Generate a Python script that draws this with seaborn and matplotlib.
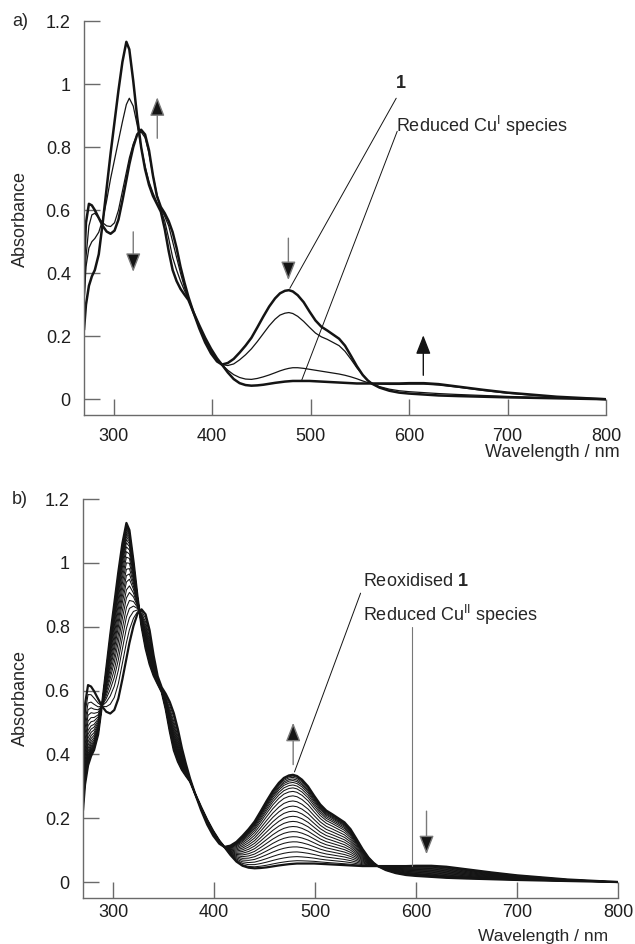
import numpy as np
import pandas as pd
import matplotlib
matplotlib.use("Agg")
import matplotlib.pyplot as plt
import seaborn as sns

# ---------------- data ----------------
wavelength = [270, 272, 275, 278, 281, 285, 289, 293, 297, 301,
              305, 309, 313, 316, 320, 324, 328, 332, 336, 340,
              344, 348, 352, 356, 360, 364, 368, 372, 376, 381,
              387, 393, 399, 405, 410, 416, 422, 428, 434, 440,
              446, 452, 458, 464, 469, 474, 478, 482, 487, 493,
              499, 505, 511, 517, 523, 529, 535, 541, 547, 553,
              558, 562, 570, 580, 590, 600, 615, 630, 650, 675,
              700, 750, 800]

compound1 = [0.42, 0.56, 0.62, 0.615, 0.60, 0.575, 0.55, 0.532, 0.525, 0.535,
             0.57, 0.63, 0.695, 0.745, 0.80, 0.84, 0.855, 0.84, 0.79, 0.71,
             0.645, 0.61, 0.59, 0.565, 0.53, 0.48, 0.42, 0.37, 0.325, 0.277,
             0.225, 0.18, 0.145, 0.12, 0.11, 0.115, 0.128, 0.148, 0.17, 0.195,
             0.228, 0.262, 0.294, 0.32, 0.336, 0.344, 0.346, 0.342, 0.33, 0.308,
             0.278, 0.25, 0.23, 0.218, 0.205, 0.192, 0.17, 0.138, 0.105, 0.077,
             0.06, 0.05, 0.037, 0.027, 0.021, 0.018, 0.015, 0.012, 0.01, 0.008,
             0.006, 0.003, 0.0]

intermediate_hi = [0.30, 0.45, 0.55, 0.585, 0.59, 0.575, 0.56, 0.55, 0.548, 0.56,
                   0.60, 0.66, 0.72, 0.765, 0.81, 0.84, 0.848, 0.83, 0.78, 0.71,
                   0.65, 0.605, 0.58, 0.55, 0.50, 0.45, 0.40, 0.355, 0.318, 0.277,
                   0.228, 0.185, 0.15, 0.123, 0.11, 0.107, 0.112, 0.125, 0.141, 0.16,
                   0.183, 0.208, 0.233, 0.254, 0.267, 0.273, 0.275, 0.272, 0.263, 0.247,
                   0.228, 0.21, 0.198, 0.19, 0.18, 0.17, 0.152, 0.127, 0.10, 0.077,
                   0.06, 0.05, 0.04, 0.032, 0.027, 0.024, 0.021, 0.018, 0.015, 0.012,
                   0.009, 0.004, 0.0]

intermediate_lo = [0.30, 0.42, 0.48, 0.50, 0.51, 0.53, 0.57, 0.63, 0.70, 0.76,
                   0.82, 0.88, 0.935, 0.955, 0.93, 0.87, 0.80, 0.74, 0.69, 0.655,
                   0.625, 0.60, 0.565, 0.51, 0.45, 0.41, 0.375, 0.345, 0.318, 0.277,
                   0.232, 0.19, 0.155, 0.127, 0.11, 0.092, 0.078, 0.069, 0.064, 0.063,
                   0.066, 0.071, 0.077, 0.084, 0.09, 0.095, 0.098, 0.10, 0.10, 0.098,
                   0.095, 0.092, 0.089, 0.086, 0.083, 0.08, 0.076, 0.071, 0.065, 0.058,
                   0.053, 0.05, 0.048, 0.047, 0.047, 0.048, 0.048, 0.045, 0.038, 0.028,
                   0.019, 0.007, 0.0]

reduced_cu = [0.22, 0.30, 0.36, 0.39, 0.41, 0.46, 0.56, 0.67, 0.78, 0.88,
              0.98, 1.07, 1.134, 1.11, 1.01, 0.895, 0.80, 0.73, 0.68, 0.645,
              0.62, 0.595, 0.54, 0.47, 0.41, 0.375, 0.35, 0.332, 0.315, 0.277,
              0.235, 0.195, 0.16, 0.13, 0.11, 0.085, 0.064, 0.051, 0.045, 0.043,
              0.044, 0.046, 0.049, 0.052, 0.054, 0.056, 0.057, 0.058, 0.058, 0.058,
              0.058, 0.057, 0.056, 0.055, 0.054, 0.053, 0.052, 0.051, 0.05, 0.05,
              0.05, 0.05, 0.05, 0.05, 0.05, 0.051, 0.051, 0.048, 0.04, 0.03,
              0.021, 0.008, 0.0]

# panel b: absorbance of each re-oxidation trace read at 313 nm and 478 nm
trace_a313 = [1.125, 1.12, 1.115, 1.11, 1.104, 1.097, 1.09, 1.082, 1.073, 1.063,
              1.05, 1.035, 1.018, 1.0, 0.98, 0.96, 0.94, 0.915, 0.89, 0.86,
              0.83, 0.795, 0.75, 0.70]
trace_a478 = [0.057, 0.066, 0.079, 0.094, 0.11, 0.126, 0.142, 0.158, 0.174, 0.19,
              0.206, 0.222, 0.238, 0.254, 0.27, 0.284, 0.295, 0.304, 0.312, 0.318,
              0.323, 0.328, 0.332, 0.336]
isosbestic_nm = 410

x_ticks = [300, 400, 500, 600, 700, 800]
y_ticks = [0, 0.2, 0.4, 0.6, 0.8, 1.0, 1.2]
y_ticklabels = ["0", "0.2", "0.4", "0.6", "0.8", "1", "1.2"]

# ---------------- style ----------------
sns.set_style("ticks")
plt.rcParams["font.family"] = ["Liberation Sans", "DejaVu Sans"]
plt.rcParams["mathtext.fontset"] = "custom"
plt.rcParams["mathtext.rm"] = "Liberation Sans"
plt.rcParams["mathtext.it"] = "Liberation Sans:italic"
plt.rcParams["mathtext.bf"] = "Liberation Sans:bold"

FS = 13
SPINE = "#6a6a6a"
INK = "#141414"

fig = plt.figure(figsize=(6.35, 9.44), dpi=100)
W, H = 635, 944
axA = fig.add_axes([84 / W, 1 - 415 / H, 522 / W, 394 / H])
axB = fig.add_axes([83 / W, 1 - 898 / H, 535 / W, 399 / H])

wl = np.array(wavelength)


def style_axis(ax, xpad):
    ax.set_xlim(270, 800)
    ax.set_ylim(-0.05, 1.2)
    ax.set_xticks(x_ticks)
    ax.set_xticklabels([str(t) for t in x_ticks])
    ax.set_yticks(y_ticks)
    ax.set_yticklabels(y_ticklabels)
    for s in ["top", "right"]:
        ax.spines[s].set_visible(False)
    for s in ["left", "bottom"]:
        ax.spines[s].set_color(SPINE)
        ax.spines[s].set_linewidth(1.0)
    ax.tick_params(axis="both", direction="in", length=11.5, width=1.0,
                   color=SPINE, labelsize=FS, labelcolor="#1e1e1e")
    ax.tick_params(axis="y", pad=9.5)
    ax.tick_params(axis="x", pad=xpad)
    ax.set_xlabel("")
    ax.set_ylabel("")
    ax.set_facecolor("white")


def arrow(ax, tail, tip, shaft="#7a7a7a"):
    ax.annotate("", xy=tip, xytext=tail,
                arrowprops=dict(arrowstyle="-|>,head_length=1.15,head_width=0.45",
                                mutation_scale=10, lw=1.0, edgecolor=shaft,
                                facecolor=INK, shrinkA=0, shrinkB=0))


# ---------------- panel a ----------------
curves_a = pd.DataFrame({"wl": wl, "c1": compound1, "ihi": intermediate_hi,
                         "ilo": intermediate_lo, "red": reduced_cu})
for col, lw in [("ilo", 0.9), ("ihi", 0.9), ("red", 1.8), ("c1", 1.8)]:
    sns.lineplot(data=curves_a, x="wl", y=col, ax=axA, color=INK, lw=lw,
                 sort=False, estimator=None)
style_axis(axA, 9.5)

axA.text(592, 1.003, "1", fontsize=FS, fontweight="bold", ha="center", va="center")
axA.plot([587, 479], [0.955, 0.352], color=INK, lw=0.7)
axA.text(587, 0.867, r"Reduced Cu$^{\mathrm{I}}$ species", fontsize=FS,
         ha="left", va="center")
axA.plot([588, 491], [0.85, 0.06], color=INK, lw=0.7)

arrow(axA, (344.4, 0.828), (344.4, 0.958))
arrow(axA, (320, 0.531), (320, 0.404))
arrow(axA, (477.5, 0.511), (477.5, 0.378))
arrow(axA, (614.5, 0.076), (614.5, 0.203), shaft=INK)

# ---------------- panel b ----------------
red = np.array(reduced_cu)
ox = np.array(compound1)
red313 = red[wavelength.index(313)]
ox313 = ox[wavelength.index(313)]
red478 = red[wavelength.index(478)]
ox478 = ox[wavelength.index(478)]

rows = []
for i, (a313, a478) in enumerate(zip(trace_a313, trace_a478)):
    f_uv = (red313 - a313) / (red313 - ox313)
    f_vis = (a478 - red478) / (ox478 - red478)
    f = np.where(wl <= isosbestic_nm, f_uv, f_vis)
    spec = red + f * (ox - red)
    for w, a in zip(wl, spec):
        rows.append({"trace": i, "wl": w, "A": a})
traces = pd.DataFrame(rows)
n = len(trace_a313)
for i in range(n):
    lw = 1.6 if i in (0, n - 1) else 0.75
    sns.lineplot(data=traces[traces.trace == i], x="wl", y="A", ax=axB,
                 color=INK, lw=lw, sort=False, estimator=None)
style_axis(axB, 4.0)

axB.text(547, 0.94, r"Reoxidised $\mathbf{1}$", fontsize=FS, ha="left", va="center")
axB.plot([545, 479.5], [0.905, 0.345], color=INK, lw=0.7)
axB.text(547, 0.838, r"Reduced Cu$^{\mathrm{II}}$ species", fontsize=FS,
         ha="left", va="center")
axB.plot([596, 596], [0.80, 0.05], color="#777777", lw=0.8)

arrow(axB, (478.2, 0.368), (478.2, 0.499))
arrow(axB, (610.3, 0.222), (610.3, 0.087))

# ---------------- outer labels ----------------
fig.text(20 / W, 1 - 22 / H, "a)", fontsize=FS, ha="center", va="center")
fig.text(20 / W, 1 - 499 / H, "b)", fontsize=FS, ha="center", va="center")
fig.text(20 / W, 1 - 219 / H, "Absorbance", fontsize=FS, rotation=90,
         ha="center", va="center")
fig.text(20 / W, 1 - 698 / H, "Absorbance", fontsize=FS, rotation=90,
         ha="center", va="center")
fig.text(620 / W, 1 - 452 / H, "Wavelength / nm", fontsize=FS, ha="right", va="center")
fig.text(608 / W, 0.3 / H, "Wavelength / nm", fontsize=12.5, ha="right", va="bottom")

fig.savefig("out.png", dpi=100, facecolor="white")
